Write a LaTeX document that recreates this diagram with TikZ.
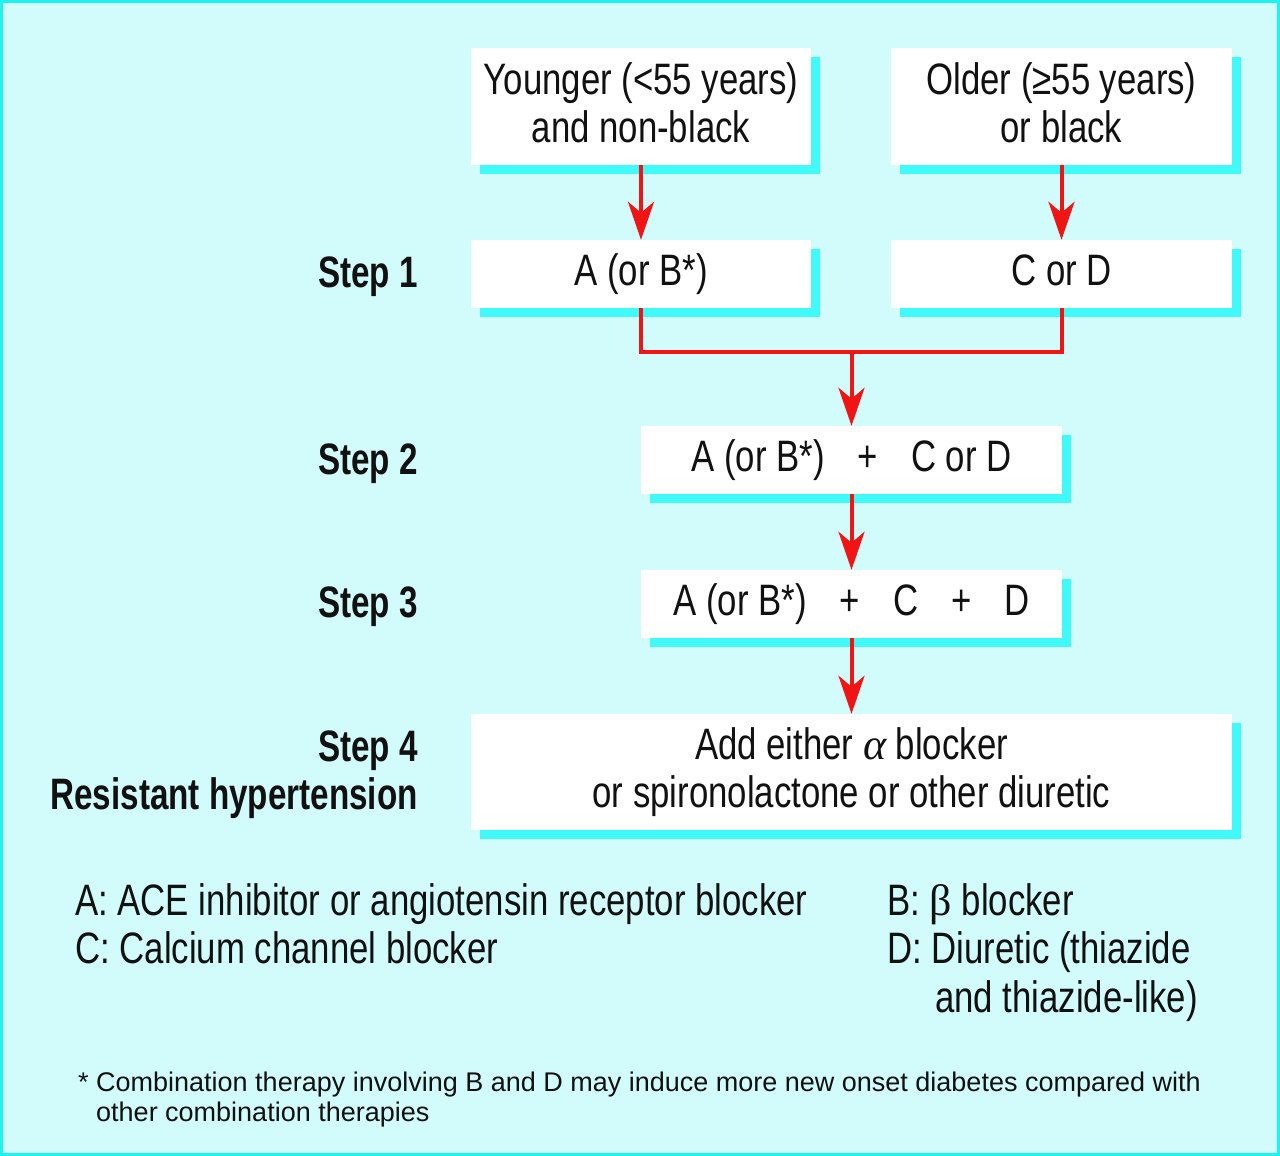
\documentclass[tikz,border=0pt]{standalone}
\usepackage{fontspec}
\setmainfont{Liberation Sans}[FakeStretch=0.79, BoldFeatures={FakeStretch=0.755}]
\newfontfamily\grk{Liberation Serif}
\newfontfamily\footfont{Liberation Sans}
\usetikzlibrary{arrows.meta,shadows}
\definecolor{bgc}{HTML}{D2FCFC}
\definecolor{edgec}{HTML}{1CF4F4}
\definecolor{shc}{HTML}{40FAFA}
\definecolor{arc}{HTML}{F01414}
\definecolor{txc}{HTML}{111111}
\newcommand{\liftbox}[2]{\raisebox{#1}[\height][\depth]{\begin{tabular}{@{}c@{}}#2\end{tabular}}}
\begin{document}
\begin{tikzpicture}[x=1pt,y=-1pt,
  box/.style={fill=white, inner sep=0pt, align=center, text=txc,
    font=\fontsize{44}{48}\selectfont,
    drop shadow={shadow xshift=9pt, shadow yshift=-9pt, fill=shc, opacity=1}},
  steplab/.style={font=\fontsize{44}{48}\selectfont\bfseries, anchor=base east, align=right, inner sep=0pt, text=txc},
  legend/.style={font=\fontsize{44}{48}\selectfont, anchor=base west, align=left, inner sep=0pt, text=txc},
  foot/.style={font=\footfont\fontsize{27}{30}\selectfont, anchor=base west, align=left, inner sep=0pt, text=txc},
  arr/.style={draw=arc, line width=4pt, -{Stealth[length=38pt, width=26pt, inset=11pt]}},
  link/.style={draw=arc, line width=4pt}
]
\useasboundingbox (0,0) rectangle (1280,1156);
\path[fill=bgc, draw=edgec, line width=3pt] (1.5,1.5) rectangle (1278.5,1154.5);

% boxes
\node[box, minimum width=340pt, minimum height=117pt] (yng) at (641,106.5) {\liftbox{-2pt}{Younger (<55 years)\\and non-black}};
\node[box, minimum width=341pt, minimum height=117pt] (old) at (1061.5,106.5) {\liftbox{-2pt}{Older (≥55 years)\\or black}};
\node[box, minimum width=340pt, minimum height=68pt] (s1a) at (641,274) {A (or B*)};
\node[box, minimum width=341pt, minimum height=68pt] (s1b) at (1061.5,274) {\vphantom{()}C or D};
\node[box, minimum width=421pt, minimum height=68pt] (s2) at (851.5,460) {A (or B*)\hspace{33pt}+\hspace{33pt}C or D};
\node[box, minimum width=421pt, minimum height=68pt] (s3) at (851.5,604) {A (or B*)\hspace{33pt}+\hspace{33pt}C\hspace{33pt}+\hspace{33pt}D};
\node[box, minimum width=761pt, minimum height=116pt] (s4) at (851.5,772) {Add either {\grk\itshape α} blocker\\or spironolactone or other diuretic};

% step labels
\node[steplab] (l1) at (418,287) {Step 1};
\node[steplab] (l2) at (418,474) {Step 2};
\node[steplab] (l3) at (418,617) {Step 3};
\node[steplab] (l4) at (418,809) {Step 4\\Resistant hypertension};

% connectors
\coordinate (j) at (851.5,352);
\draw[arr] (yng.south) -- (s1a.north);
\draw[arr] (old.south) -- (s1b.north);
\draw[link] (s1a.south) |- (j);
\draw[link] (s1b.south) |- (j);
\draw[arr] (j) -- (s2.north);
\draw[arr] (s2.south) -- (s3.north);
\draw[arr] (s3.south) -- (s4.north);

% legend
\node[legend] (la) at (75,915) {A: ACE inhibitor or angiotensin receptor blocker};
\node[legend] (lc) at (75,963) {C: Calcium channel blocker};
\node[legend] (lb) at (887,915) {B: {\grk β} blocker};
\node[legend] (ld) at (887,963) {D: Diuretic (thiazide};
\node[legend] (ld2) at (935,1012) {and thiazide-like)};

% footnote
\node[foot] (fn) at (78,1121) {* Combination therapy involving B and D may induce more new onset diabetes compared with\\\hphantom{* }other combination therapies};
\end{tikzpicture}
\end{document}
